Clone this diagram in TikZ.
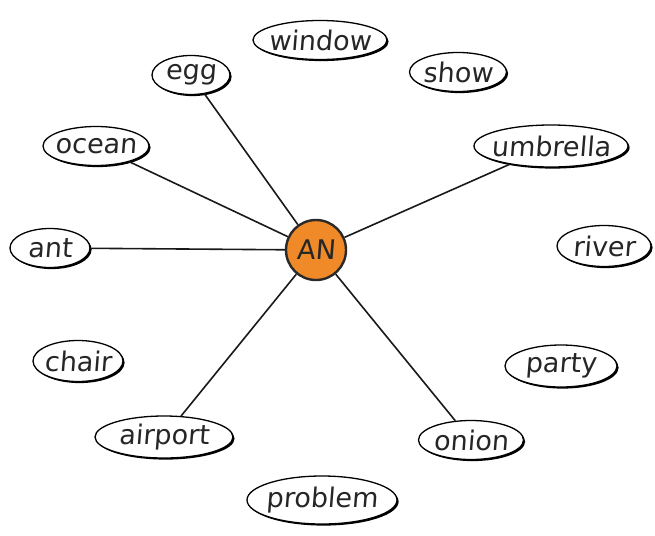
\documentclass[tikz,border=0pt]{standalone}
\usepackage{fontspec}
\setmainfont[FakeSlant=0.08]{DejaVu Sans}
\usetikzlibrary{shapes.geometric,shadows}
\definecolor{anorange}{HTML}{F08A28}
\definecolor{anborder}{HTML}{2A2A2A}
\tikzset{
  word/.style={ellipse, draw=black, line width=1.3pt, fill=white, inner sep=0pt,
    drop shadow={shadow xshift=1.6pt, shadow yshift=-1.6pt, fill=black, opacity=1}},
  wordtext/.style={font=\fontsize{27}{31}\selectfont, text=black!85},
  hub/.style={circle, draw=anborder, line width=2.4pt, fill=anorange, minimum size=60pt, inner sep=0pt,
    font=\fontsize{27}{31}\selectfont, text=black!85},
  link/.style={line width=1.6pt, draw=black!90}
}
\begin{document}
\begin{tikzpicture}[x=1pt,y=-1pt]
\useasboundingbox (0,0) rectangle (655,535);
\node[hub] (AN) at (316,250) {AN};
\node[word, minimum width=134pt, minimum height=39pt, label={[wordtext]center:window}] (window) at (320,40) {};
\node[word, minimum width=97pt, minimum height=39pt, label={[wordtext]center:show}] (show) at (458,72) {};
\node[word, minimum width=78pt, minimum height=39pt, label={[wordtext]center:egg}] (egg) at (191,75) {};
\node[word, minimum width=106pt, minimum height=39pt, label={[wordtext]center:ocean}] (ocean) at (96,146) {};
\node[word, minimum width=154pt, minimum height=42pt, label={[wordtext]center:umbrella}] (umbrella) at (551,146) {};
\node[word, minimum width=80pt, minimum height=39pt, label={[wordtext]center:ant}] (ant) at (50,248) {};
\node[word, minimum width=94pt, minimum height=41pt, label={[wordtext]center:river}] (river) at (604,246) {};
\node[word, minimum width=90pt, minimum height=41pt, label={[wordtext]center:chair}] (chair) at (78,361) {};
\node[word, minimum width=112pt, minimum height=42pt, label={[wordtext]center:party}] (party) at (561,366) {};
\node[word, minimum width=138pt, minimum height=42pt, label={[wordtext]center:airport}] (airport) at (164,437) {};
\node[word, minimum width=105pt, minimum height=39pt, label={[wordtext]center:onion}] (onion) at (471,440) {};
\node[word, minimum width=150pt, minimum height=48pt, label={[wordtext]center:problem}] (problem) at (322,500) {};
\draw[link] (AN) -- (egg);
\draw[link] (AN) -- (ocean);
\draw[link] (AN) -- (ant);
\draw[link] (AN) -- (umbrella);
\draw[link] (AN) -- (airport);
\draw[link] (AN) -- (onion);
\end{tikzpicture}
\end{document}
